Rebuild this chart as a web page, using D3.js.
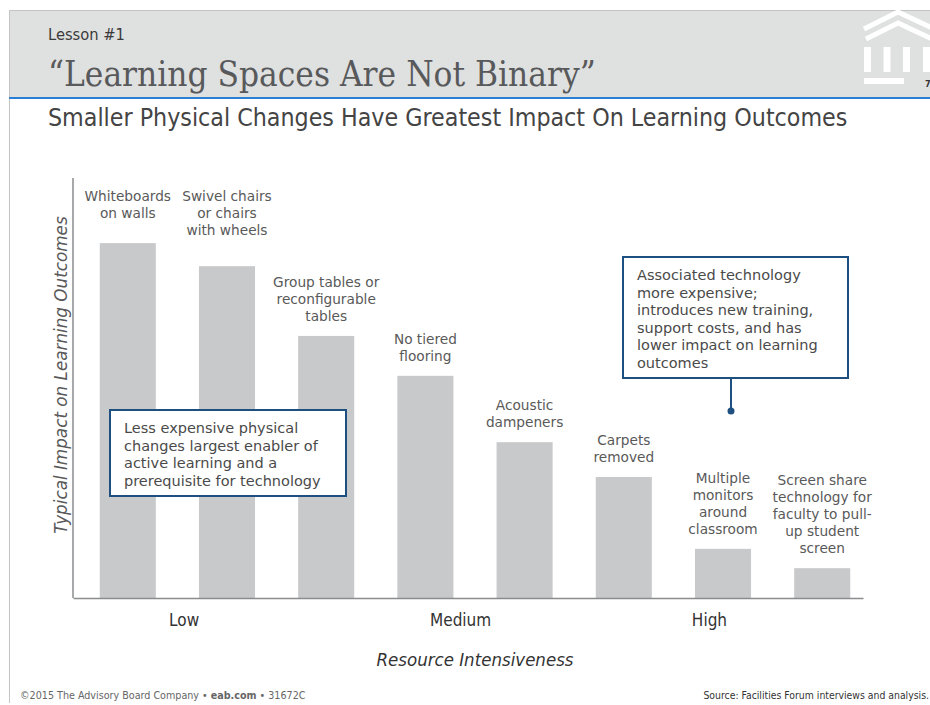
<!DOCTYPE html>
<html>
<head>
<meta charset="utf-8">
<script src="https://cdn.jsdelivr.net/npm/d3@7"></script>
<style>
  body { margin: 0; background: #fff; }
  svg { display: block; }
</style>
</head>
<body>
<div id="slide"></div>
<script>
// bar data (impact in arbitrary index points)
const categories = ['whiteboards', 'swivel', 'group', 'tiered', 'acoustic', 'carpets', 'monitors', 'screenshare'];
const labelLines = [
  ['Whiteboards', 'on walls'],
  ['Swivel chairs', 'or chairs', 'with wheels'],
  ['Group tables or', 'reconfigurable', 'tables'],
  ['No tiered', 'flooring'],
  ['Acoustic', 'dampeners'],
  ['Carpets', 'removed'],
  ['Multiple', 'monitors', 'around', 'classroom'],
  ['Screen share', 'technology for', 'faculty to pull-', 'up student', 'screen']
];
const impact = [84.5, 79, 62.4, 52.9, 37.1, 28.8, 11.7, 7.1];

// resource intensiveness axis
const levels = ['Low', 'Medium', 'High'];
const levelAt = [1.4, 4.9, 8.05];

const calloutLeft = ['Less expensive physical', 'changes largest enabler of', 'active learning and a', 'prerequisite for technology'];
const calloutRight = ['Associated technology', 'more expensive;', 'introduces new training,', 'support costs, and has', 'lower impact on learning', 'outcomes'];

const width = 930,
height = 705,
plot = { left: 73, right: 863, top: 178, bottom: 598 };

const narrow = '"Liberation Sans Narrow", "DejaVu Sans Condensed", "Liberation Sans", sans-serif';
const verdana = '"DejaVu Sans", Verdana, sans-serif';

const svg = d3.select('#slide').
append('svg').
attr('width', width).
attr('height', height);

// squeeze/stretch a text to the width it has on the slide
const fitWidth = (sel, w) => {
  const len = sel.node().getComputedTextLength();
  const fs = parseFloat(sel.style('font-size'));
  sel.style('font-size', fs * w / len + 'px');
};

// ---- header band
svg.append('rect').
attr('x', 9).attr('y', 10).
attr('width', width - 9).attr('height', 88).
attr('fill', '#dfe0e0');
svg.append('line').
attr('x1', 9).attr('x2', width).attr('y1', 10.5).attr('y2', 10.5).
attr('stroke', '#c4c4c4');
svg.append('line').
attr('x1', 9.5).attr('x2', 9.5).attr('y1', 10).attr('y2', 703).
attr('stroke', '#c4c4c4');
svg.append('line').
attr('x1', 9).attr('x2', width).attr('y1', 98).attr('y2', 98).
attr('stroke', '#2a7fd4').attr('stroke-width', 2);

// building logo
const logo = svg.append('g').attr('fill', 'none').attr('stroke', '#fff');
logo.append('path').attr('d', 'M864,29 L898,12 L932,28').attr('stroke-width', 5);
logo.append('path').attr('d', 'M866,39 L898,23 L932,39').attr('stroke-width', 5);
[867.5, 887, 906.5, 926.5].forEach(cx => {
  logo.append('line').attr('x1', cx).attr('x2', cx).attr('y1', 47).attr('y2', 72).attr('stroke-width', 7);
});
logo.append('line').attr('x1', 864).attr('x2', 904).attr('y1', 81).attr('y2', 81).attr('stroke-width', 6);
svg.append('text').
attr('x', 925).attr('y', 87).
style('font-family', narrow).style('font-size', '9px').style('font-weight', 'bold').style('fill', '#333').
text('7');

const lesson = svg.append('text').
attr('x', 48).attr('y', 40).
style('font-family', narrow).style('font-size', '14px').style('fill', '#3a3a3a').
text('Lesson #1');
fitWidth(lesson, 77);

const title = svg.append('text').
attr('x', 48).attr('y', 86).
style('font-family', '"DejaVu Serif Condensed", "DejaVu Serif", serif').
style('font-size', '30px').style('fill', '#58595b').
text('\u201CLearning Spaces Are Not Binary\u201D');
fitWidth(title, 548);

const subtitle = svg.append('text').
attr('x', 48).attr('y', 126).
style('font-family', narrow).style('font-size', '24px').style('fill', '#444').
text('Smaller Physical Changes Have Greatest Impact On Learning Outcomes');
fitWidth(subtitle, 800);

// ---- chart
const x = d3.scaleBand().
domain(categories).
range([70, 880]).
paddingInner(0.435).
paddingOuter(0.3);

const y = d3.scaleLinear().
domain([0, 100]).
range([plot.bottom, plot.top]);

const intensity = d3.scaleLinear().
domain([0, 10]).
range([plot.left, plot.right]);

svg.append('g').
selectAll('rect').
data(impact).
join('rect').
attr('x', (d, i) => x(categories[i])).
attr('y', d => y(d)).
attr('width', x.bandwidth()).
attr('height', d => y(0) - y(d)).
attr('fill', '#c8c9cb');

// axes: plain lines, no ticks
svg.append('g').
attr('transform', `translate(0,${plot.bottom})`).
call(d3.axisBottom(intensity).tickValues(levelAt).tickFormat((d, i) => levels[i]).tickSize(0).tickPadding(16)).
call(g => g.select('.domain').attr('stroke', '#8a8c8e').attr('stroke-width', 1.5)).
call(g => g.selectAll('text').
style('font-family', narrow).style('font-size', '17px').style('fill', '#333'));

svg.append('line').
attr('x1', plot.left).attr('x2', plot.left).
attr('y1', plot.top).attr('y2', plot.bottom).
attr('stroke', '#8a8c8e').attr('stroke-width', 1.5);

// bar labels
const lh = 17;
const labels = svg.append('g').
style('font-family', verdana).style('font-size', '13.7px').style('fill', '#595959').
attr('text-anchor', 'middle');

labelLines.forEach((lines, i) => {
  const cx = x(categories[i]) + x.bandwidth() / 2;
  const first = i < 2 ? plot.top + 23 : y(impact[i]) - 15 - (lines.length - 1) * lh;
  const t = labels.append('text').attr('x', cx).attr('y', first);
  lines.forEach((s, j) => {
    t.append('tspan').attr('x', cx).attr('dy', j ? lh : 0).text(s);
  });
});

// axis titles
svg.append('text').
attr('transform', `translate(67,375) rotate(-90)`).
attr('text-anchor', 'middle').
style('font-family', verdana).style('font-style', 'italic').style('font-size', '16.8px').style('fill', '#595959').
text('Typical Impact on Learning Outcomes');

svg.append('text').
attr('x', 475).attr('y', 666).
attr('text-anchor', 'middle').
style('font-family', narrow).style('font-style', 'italic').style('font-size', '18.5px').style('fill', '#333').
text('Resource Intensiveness');

// callouts
const callout = (bx, by, bw, bh, lines) => {
  svg.append('rect').
  attr('x', bx).attr('y', by).attr('width', bw).attr('height', bh).
  attr('fill', '#fff').attr('stroke', '#1d4f80').attr('stroke-width', 2);
  const t = svg.append('text').
  attr('x', bx + 14).attr('y', by + 23).
  style('font-family', verdana).style('font-size', '14.5px').style('fill', '#4a4a4a');
  lines.forEach((s, j) => {
    t.append('tspan').attr('x', bx + 14).attr('dy', j ? 17.5 : 0).text(s);
  });
};

callout(110, 410, 236, 86, calloutLeft);

svg.append('line').
attr('x1', 731).attr('x2', 731).attr('y1', 378).attr('y2', 411).
attr('stroke', '#1d4f80').attr('stroke-width', 2);
svg.append('circle').
attr('cx', 731).attr('cy', 411).attr('r', 3.5).attr('fill', '#1d4f80');
callout(623, 257, 225, 121, calloutRight);

// footer
const foot = svg.append('text').
attr('x', 20).attr('y', 699).
style('font-family', narrow).style('font-size', '10px').style('fill', '#666');
foot.append('tspan').text('\u00A92015 The Advisory Board Company \u2022 ');
foot.append('tspan').style('font-weight', 'bold').text('eab.com');
foot.append('tspan').text(' \u2022 31672C');
fitWidth(foot, 286);

const source = svg.append('text').
attr('x', 929).attr('y', 699).
attr('text-anchor', 'end').
style('font-family', narrow).style('font-size', '10px').style('fill', '#333').
text('Source: Facilities Forum interviews and analysis.');
fitWidth(source, 226);
</script>
</body>
</html>
